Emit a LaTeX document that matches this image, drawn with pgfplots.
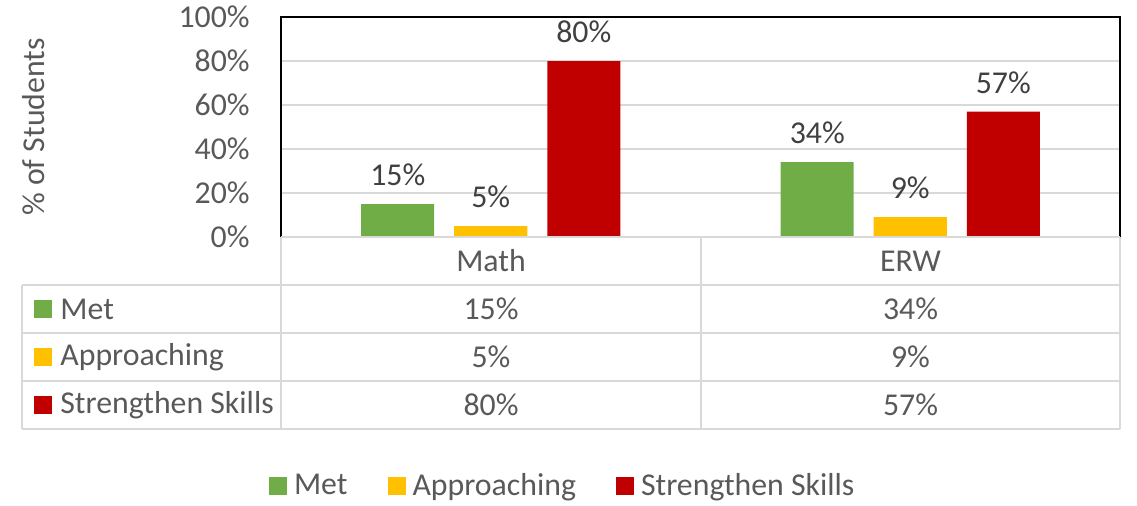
\documentclass[border=0pt]{standalone}
\usepackage{fontspec}
\setmainfont{Carlito}
\usepackage{pgfplots}
\pgfplotsset{compat=1.18}
\definecolor{cgreen}{HTML}{70AD47}
\definecolor{cyellow}{HTML}{FFC000}
\definecolor{cred}{HTML}{C00000}
\definecolor{ctext}{HTML}{595959}
\definecolor{clabel}{HTML}{404040}
\definecolor{cgrid}{HTML}{D9D9D9}
\newcommand{\fs}{\fontsize{15.9}{18}\selectfont}
\pgfplotsset{
  mybar/.style={ybar, bar width=36.5pt, bar shift=#1, draw=none,
    nodes near coords={\pgfmathprintnumber[assume math mode=true]{\pgfplotspointmeta}\%},
    every node near coord/.append style={font=\fs, text=clabel, anchor=center, yshift=14.5pt, xshift=#1}},
}
\begin{document}
\begin{tikzpicture}
\useasboundingbox (0,0) rectangle (568.5pt,-252.5pt);
\begin{axis}[name=ax, at={(140.5pt,-118.5pt)}, anchor=south west,
  scale only axis, width=419.5pt, height=110pt,
  xmin=-0.5, xmax=1.5, ymin=0, ymax=100,
  xtick=\empty, ytick={0,20,40,60,80,100},
  yticklabels={0\%,20\%,40\%,60\%,80\%,100\%},
  major tick length=0pt,
  yticklabel style={font=\fs, text=ctext, inner sep=0pt, xshift=-15.5pt},
  ymajorgrids, grid style={cgrid, line width=0.6pt},
  axis line style={draw=none},
  clip=false,
  ylabel={\% of Students},
  ylabel style={at={(rel axis cs:-0.2944,0.5)}, anchor=center, font=\fs, text=ctext},
  legend style={at={(rel axis cs:0.337,-1.13)}, anchor=center, draw=none, fill=none,
    legend columns=3, font=\fs, text=ctext,
    /tikz/every odd column/.append style={column sep=1.5pt},
    /tikz/every even column/.append style={column sep=18pt}},
  legend cell align=left,
]
\addplot[mybar=-46.5pt, fill=cgreen,
  legend image code/.code={\fill[cgreen] (0pt,-4.5pt) rectangle (9pt,4.5pt);}]
  coordinates {(0,15) (1,34)};
\addplot[mybar=0pt, fill=cyellow,
  legend image code/.code={\fill[cyellow] (0pt,-4.5pt) rectangle (9pt,4.5pt);}]
  coordinates {(0,5) (1,9)};
\addplot[mybar=46.5pt, fill=cred,
  legend image code/.code={\fill[cred] (0pt,-4.5pt) rectangle (9pt,4.5pt);}]
  coordinates {(0,80) (1,57)};
\legend{Met,Approaching,Strengthen Skills}
\draw[black, line width=0.8pt] (rel axis cs:0,0) -- (rel axis cs:0,1) -- (rel axis cs:1,1) -- (rel axis cs:1,0);
\end{axis}
\begin{scope}[x=0.5pt, y=-0.5pt]
  \draw[cgrid, line width=0.6pt] (281,237) -- (1120,237)
    (22,285) -- (1120,285) (22,333) -- (1120,333) (22,381) -- (1120,381) (22,429) -- (1120,429)
    (22,285) -- (22,429) (281,237) -- (281,429) (701,237) -- (701,429) (1120,237) -- (1120,429);
  \begin{scope}[every node/.style={font=\fs, text=ctext, inner sep=0pt}]
    \node at (491,261) {Math};
    \node at (910.5,261) {ERW};
    \fill[cgreen] (34,300) rectangle (52,318);
    \fill[cyellow] (34,348) rectangle (52,366);
    \fill[cred] (34,396) rectangle (52,414);
    \node[anchor=west] at (60,309) {Met};
    \node[anchor=west] at (60,357) {Approaching};
    \node[anchor=west] at (60,405) {Strengthen Skills};
    \node at (491,309) {15\%};
    \node at (910.5,309) {34\%};
    \node at (491,357) {5\%};
    \node at (910.5,357) {9\%};
    \node at (491,405) {80\%};
    \node at (910.5,405) {57\%};
  \end{scope}
\end{scope}
\end{tikzpicture}
\end{document}
